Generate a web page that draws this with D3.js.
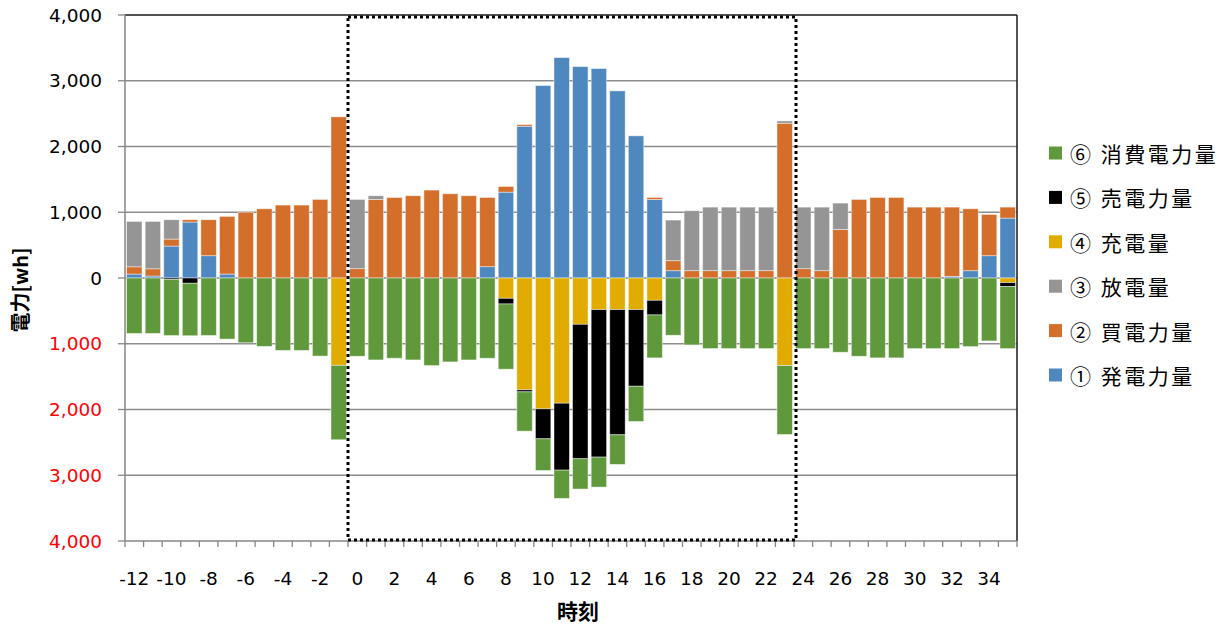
<!DOCTYPE html>
<html>
<head>
<meta charset="utf-8">
<script src="https://cdn.jsdelivr.net/npm/d3@7"></script>
<style>
  html, body { margin: 0; padding: 0; background: #fff; }
  svg { display: block; }
</style>
</head>
<body>
<svg id="chart" width="1231" height="625"></svg>
<script>
// Hours (時刻)
const hours = [-12,-11,-10,-9,-8,-7,-6,-5,-4,-3,-2,-1,0,1,2,3,4,5,6,7,8,9,10,11,12,13,14,15,16,17,18,19,20,21,22,23,24,25,26,27,28,29,30,31,32,33,34,35];

// Supply side (positive, Wh)
const generation = [60,30,486,851,339,60,0,0,0,0,0,0, 0,0,0,0,0,0,0,172,1306,2309,2927,3352,3215,3185,2846,2162,1195,111,0,0,0,0,0,0, 0,0,0,0,0,0,0,0,25,111,339,911];
const purchase   = [110,110,106,35,547,877,1000,1053,1109,1109,1195,2451, 142,1195,1225,1251,1337,1281,1251,1053,86,25,0,0,0,0,0,0,30,152,111,111,111,111,111,2354, 142,111,739,1195,1225,1225,1078,1078,1053,942,628,167];
const discharge  = [690,720,294,0,0,0,0,0,0,0,0,0, 1053,56,0,0,0,0,0,0,0,0,0,0,0,0,0,0,0,618,912,967,967,967,967,35, 936,967,400,0,0,0,0,0,0,0,0,0];

// Demand side (negative, Wh)
const charge     = [0,0,0,0,0,0,0,0,0,0,0,-1328, 0,0,0,0,0,0,0,0,-309,-1701,-1990,-1904,-704,-481,-481,-481,-339,0,0,0,0,0,0,-1332, 0,0,0,0,0,0,0,0,0,0,0,-70];
const sale       = [0,0,-20,-80,0,0,0,0,0,0,0,0, 0,0,0,0,0,0,0,0,-86,-31,-456,-1018,-2045,-2243,-1904,-1165,-223,0,0,0,0,0,0,0, 0,0,0,0,0,0,0,0,0,0,0,-60];
const consumption= [-843,-843,-855,-798,-874,-929,-985,-1040,-1101,-1101,-1187,-1132, -1190,-1246,-1220,-1246,-1332,-1276,-1246,-1220,-992,-597,-481,-430,-461,-456,-450,-536,-653,-871,-1018,-1073,-1073,-1073,-1073,-1048, -1073,-1073,-1129,-1190,-1215,-1215,-1073,-1073,-1073,-1043,-957,-943];

const seriesNames  = ["① 発電力量","② 買電力量","③ 放電量","④ 充電量","⑤ 売電力量","⑥ 消費電力量"];
const seriesColors = ["#4f88bf","#d46e2b","#959595","#e2ab00","#000000","#60993c"];
const seriesValues = [generation, purchase, discharge, charge, sale, consumption];

const yTicks = [4000,3000,2000,1000,0,-1000,-2000,-3000,-4000];
const xLabelHours = [-12,-10,-8,-6,-4,-2,0,2,4,6,8,10,12,14,16,18,20,22,24,26,28,30,32,34];
const dayStart = 0, dayEnd = 23;

// Build table for d3.stack
const keys = seriesNames;
const table = hours.map((h, i) => {
  const row = { hour: h };
  keys.forEach((k, j) => row[k] = seriesValues[j][i]);
  return row;
});

const svg = d3.select("#chart");
const plotL = 125, plotR = 1017, plotT = 15, plotB = 541;

const x = d3.scaleBand().domain(hours).range([plotL, plotR]).paddingInner(0.17).paddingOuter(0.085);
const y = d3.scaleLinear().domain([-4000, 4000]).range([plotB, plotT]);
const step = x.step();
const boundary = h => x(h) - (step - x.bandwidth()) / 2;

const numFmt = d3.format(",");
const fontNum = "'DejaVu Sans', sans-serif";
const fontJP = "'Noto Sans CJK JP', 'Noto Sans', sans-serif";

// Horizontal gridlines
svg.append("g").selectAll("line")
  .data(yTicks.filter(v => v !== 4000 && v !== -4000))
  .join("line")
  .attr("x1", plotL).attr("x2", plotR)
  .attr("y1", d => y(d)).attr("y2", d => y(d))
  .attr("stroke", "#8c8c8c").attr("stroke-width", 1.3);

// Stacked bars
const stack = d3.stack().keys(keys).offset(d3.stackOffsetDiverging);
const layers = stack(table);

svg.append("g").selectAll("g")
  .data(layers)
  .join("g")
  .attr("fill", (d, i) => seriesColors[i])
  .selectAll("rect")
  .data(d => d.filter(p => p[1] - p[0] !== 0))
  .join("rect")
  .attr("x", d => x(d.data.hour))
  .attr("width", x.bandwidth())
  .attr("y", d => y(Math.max(d[0], d[1])))
  .attr("height", d => Math.abs(y(d[0]) - y(d[1])))
  .attr("stroke", "#ffffff").attr("stroke-opacity", 0.55).attr("stroke-width", 0.8);

// Plot frame: top and right dark, left and bottom axis grey
svg.append("line").attr("x1", plotL).attr("x2", plotR).attr("y1", y(4000)).attr("y2", y(4000))
  .attr("stroke", "#1a1a1a").attr("stroke-width", 1.5);
svg.append("line").attr("x1", plotR).attr("x2", plotR).attr("y1", y(4000)).attr("y2", y(-4000))
  .attr("stroke", "#1a1a1a").attr("stroke-width", 1.5);
svg.append("line").attr("x1", plotL).attr("x2", plotL).attr("y1", y(4000)).attr("y2", y(-4000))
  .attr("stroke", "#868686").attr("stroke-width", 1.5);
svg.append("line").attr("x1", plotL).attr("x2", plotR).attr("y1", y(-4000)).attr("y2", y(-4000))
  .attr("stroke", "#868686").attr("stroke-width", 1.5);

// Y axis ticks and labels
const yg = svg.append("g");
yg.selectAll("line").data(yTicks).join("line")
  .attr("x1", plotL - 7).attr("x2", plotL)
  .attr("y1", d => y(d)).attr("y2", d => y(d))
  .attr("stroke", "#868686").attr("stroke-width", 1.3);
yg.selectAll("text").data(yTicks).join("text")
  .attr("x", 102).attr("y", d => y(d))
  .attr("text-anchor", "end").attr("dominant-baseline", "central")
  .attr("font-family", fontNum).attr("font-size", 18.5)
  .attr("fill", d => d < 0 ? "#ff0000" : "#000")
  .text(d => numFmt(Math.abs(d)));

// X axis ticks at category boundaries
const xTickPos = hours.map(h => boundary(h)).concat([plotR]);
svg.append("g").selectAll("line").data(xTickPos).join("line")
  .attr("x1", d => d).attr("x2", d => d)
  .attr("y1", plotB).attr("y2", plotB + 6)
  .attr("stroke", "#868686").attr("stroke-width", 1.3);

svg.append("g").selectAll("text").data(xLabelHours).join("text")
  .attr("x", d => x(d) + x.bandwidth() / 2).attr("y", 578)
  .attr("text-anchor", "middle").attr("dominant-baseline", "central")
  .attr("font-family", fontNum).attr("font-size", 18.5).attr("fill", "#000")
  .text(d => d);

// Dotted frame around one day (0-23h)
svg.append("rect")
  .attr("x", boundary(dayStart))
  .attr("y", y(4000) + 2)
  .attr("width", boundary(dayEnd) + step - boundary(dayStart) + 2)
  .attr("height", y(-4000) - y(4000) - 3)
  .attr("fill", "none").attr("stroke", "#000").attr("stroke-width", 3)
  .attr("stroke-dasharray", "3 3");

// Axis titles
svg.append("text")
  .attr("transform", "translate(19,290) rotate(-90)")
  .attr("text-anchor", "middle").attr("dominant-baseline", "central")
  .attr("font-family", fontJP).attr("font-weight", "bold").attr("font-size", 20)
  .text("電力[wh]");
svg.append("text")
  .attr("x", 578).attr("y", 610)
  .attr("text-anchor", "middle").attr("dominant-baseline", "central")
  .attr("font-family", fontJP).attr("font-weight", "bold").attr("font-size", 21)
  .text("時刻");

// Legend (reverse series order)
const legendY = d3.scalePoint().domain(d3.range(6)).range([153, 375]);
const legend = svg.append("g").selectAll("g")
  .data(seriesNames.map((n, i) => ({ name: n, color: seriesColors[i] })).reverse())
  .join("g")
  .attr("transform", (d, i) => `translate(1049,${legendY(i)})`);
legend.append("rect").attr("x", 0).attr("y", -6.5).attr("width", 13).attr("height", 13)
  .attr("fill", d => d.color);
legend.append("text").attr("x", 21).attr("y", 0)
  .attr("dominant-baseline", "central")
  .attr("font-family", fontJP).attr("font-size", 21).attr("letter-spacing", 2.5)
  .attr("fill", "#000")
  .text(d => d.name);
</script>
</body>
</html>
